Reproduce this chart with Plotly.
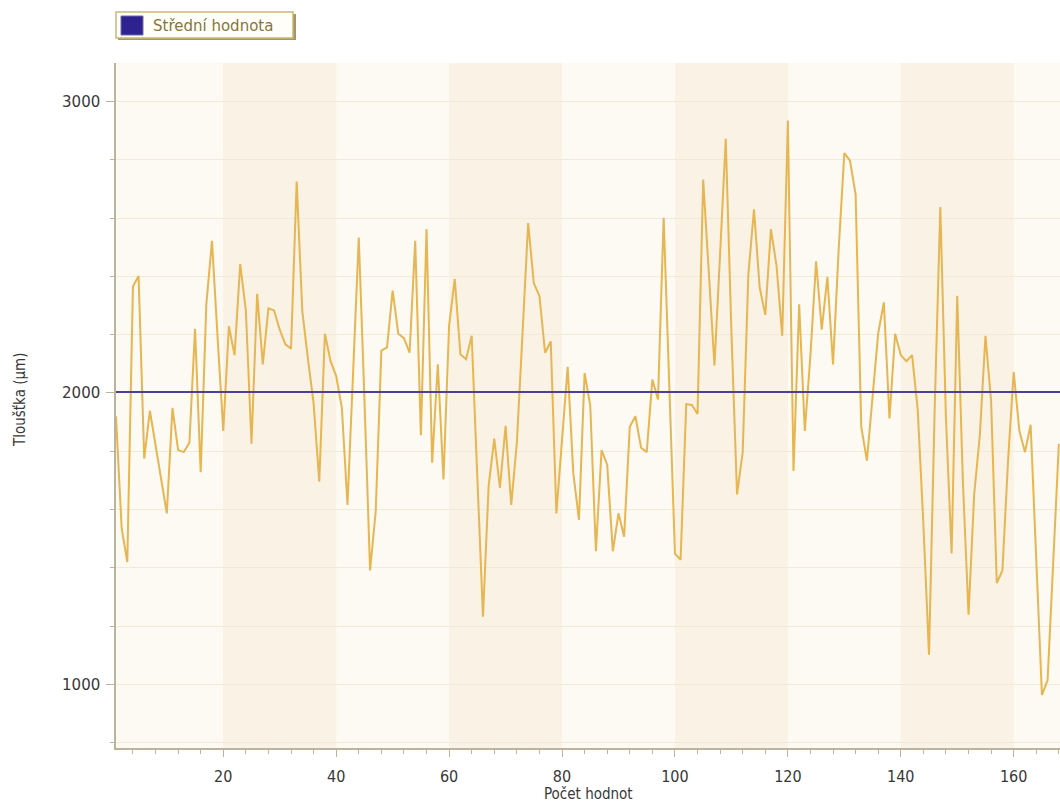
import plotly.graph_objects as go

# Measured thickness for each sample (index 1..168)
sample_index = list(range(1, 169))
thickness_um = [
    1920, 1536, 1420, 2365, 2401, 1775, 1939, 1826, 1710, 1587,
    1949, 1804, 1797, 1829, 2220, 1728, 2304, 2522, 2188, 1870,
    2229, 2130, 2442, 2283, 1826, 2340, 2098, 2290, 2283, 2217,
    2167, 2152, 2725, 2280, 2116, 1964, 1696, 2203, 2109, 2058,
    1950, 1616, 2072, 2533, 1980, 1391, 1594, 2145, 2156, 2351,
    2203, 2188, 2138, 2522, 1855, 2562, 1761, 2098, 1703, 2232,
    2391, 2133, 2116, 2196, 1710, 1232, 1681, 1843, 1674, 1887,
    1616, 1830, 2203, 2583, 2377, 2333, 2138, 2177, 1587, 1841,
    2090, 1725, 1565, 2068, 1957, 1457, 1804, 1754, 1457, 1587,
    1507, 1884, 1920, 1812, 1797, 2046, 1978, 2601, 2030, 1449,
    1428, 1962, 1959, 1928, 2732, 2400, 2094, 2478, 2872, 2210,
    1652, 1797, 2406, 2630, 2362, 2268, 2562, 2435, 2196, 2935,
    1732, 2304, 1870, 2130, 2452, 2217, 2398, 2098, 2493, 2823,
    2797, 2681, 1884, 1768, 1980, 2205, 2311, 1913, 2203, 2130,
    2109, 2130, 1942, 1551, 1102, 1942, 2638, 1913, 1449, 2333,
    1696, 1239, 1652, 1855, 2196, 1971, 1348, 1391, 1768, 2072,
    1870, 1797, 1891, 1406, 964, 1014, 1435, 1826,
]
mean_value = 2003
mean_label = "Střední hodnota"
x_title = "Počet hodnot"
y_title = "Tloušťka (µm)"
shaded_bands = [(20, 40), (60, 80), (100, 120), (140, 160)]

X_RANGE = [1, 168.2]
Y_RANGE = [782, 3132]

# plot-area geometry in pixels (used for paper-coordinate placement)
FIG_W, FIG_H = 1060, 805
M_L, M_R, M_T, M_B = 116, 0, 63, 57
PW = FIG_W - M_L - M_R
PH = FIG_H - M_T - M_B


def px_x(px):
    return (px - M_L) / PW


def px_y(py):
    return (FIG_H - M_B - py) / PH


AXIS_COL = "#BDB39C"
TEXT_COL = "#383838"

fig = go.Figure()

fig.add_trace(go.Scatter(
    x=sample_index, y=thickness_um, mode="lines",
    line=dict(color="#E5B652", width=2),
    showlegend=False, hoverinfo="x+y",
))
fig.add_trace(go.Scatter(
    x=[X_RANGE[0], X_RANGE[1]], y=[mean_value, mean_value], mode="lines",
    line=dict(color="#4B3F96", width=2),
    name=mean_label, showlegend=False,
))

shapes = []
for a, b in shaded_bands:
    shapes.append(dict(
        type="rect", xref="x", yref="paper", x0=a, x1=b, y0=0, y1=1,
        fillcolor="#F9F2E5", line=dict(width=0), layer="below",
    ))

# legend box with shadow, colour swatch
shapes.append(dict(
    type="rect", xref="paper", yref="paper",
    x0=px_x(118), x1=px_x(296), y0=px_y(40), y1=px_y(14),
    fillcolor="#A89660", line=dict(width=0),
))
shapes.append(dict(
    type="rect", xref="paper", yref="paper",
    x0=px_x(116), x1=px_x(293), y0=px_y(38), y1=px_y(12),
    fillcolor="#FFFEF8", line=dict(color="#C9B677", width=1.5),
))
shapes.append(dict(
    type="rect", xref="paper", yref="paper",
    x0=px_x(121), x1=px_x(143), y0=px_y(35), y1=px_y(16),
    fillcolor="#2E2190", line=dict(color="#6E6AA8", width=1),
))

annotations = [
    dict(text=mean_label, xref="paper", yref="paper",
         x=px_x(151), y=px_y(25.5), xanchor="left", yanchor="middle",
         showarrow=False,
         font=dict(family="DejaVu Sans", size=15, color="#86763A")),
    dict(text=x_title, xref="paper", yref="paper",
         x=0.5, y=px_y(794), xanchor="center", yanchor="middle",
         showarrow=False,
         font=dict(family="DejaVu Sans Condensed", size=15, color=TEXT_COL)),
    dict(text=y_title, xref="paper", yref="paper",
         x=px_x(20), y=px_y(400), xanchor="center", yanchor="middle",
         textangle=-90, showarrow=False,
         font=dict(family="DejaVu Sans Condensed", size=15, color=TEXT_COL)),
]

fig.update_layout(
    width=FIG_W, height=FIG_H,
    margin=dict(l=M_L, r=M_R, t=M_T, b=M_B, pad=0),
    paper_bgcolor="white",
    plot_bgcolor="#FCFAF2",
    shapes=shapes,
    annotations=annotations,
    showlegend=False,
)

fig.update_xaxes(
    range=X_RANGE, tick0=0, dtick=20,
    showgrid=False, zeroline=False,
    showline=True, linecolor=AXIS_COL, linewidth=1.5,
    ticks="outside", ticklen=7, tickcolor=AXIS_COL, tickwidth=1,
    minor=dict(dtick=4, tick0=0, ticks="outside", ticklen=4,
               tickcolor=AXIS_COL, showgrid=False),
    tickfont=dict(family="DejaVu Sans Condensed", size=16, color=TEXT_COL),
    ticklabelstandoff=6,
)
fig.update_yaxes(
    range=Y_RANGE, tick0=0, dtick=1000,
    showgrid=True, gridcolor="#F0EAD8", gridwidth=1,
    zeroline=False,
    showline=True, linecolor=AXIS_COL, linewidth=1.5,
    ticks="outside", ticklen=8, tickcolor=AXIS_COL, tickwidth=1,
    minor=dict(dtick=200, tick0=0, ticks="outside", ticklen=4,
               tickcolor=AXIS_COL, showgrid=True, gridcolor="#F0EAD8"),
    tickfont=dict(family="DejaVu Sans", size=15, color=TEXT_COL),
    ticklabelstandoff=3,
)

fig.write_html("out.html")
